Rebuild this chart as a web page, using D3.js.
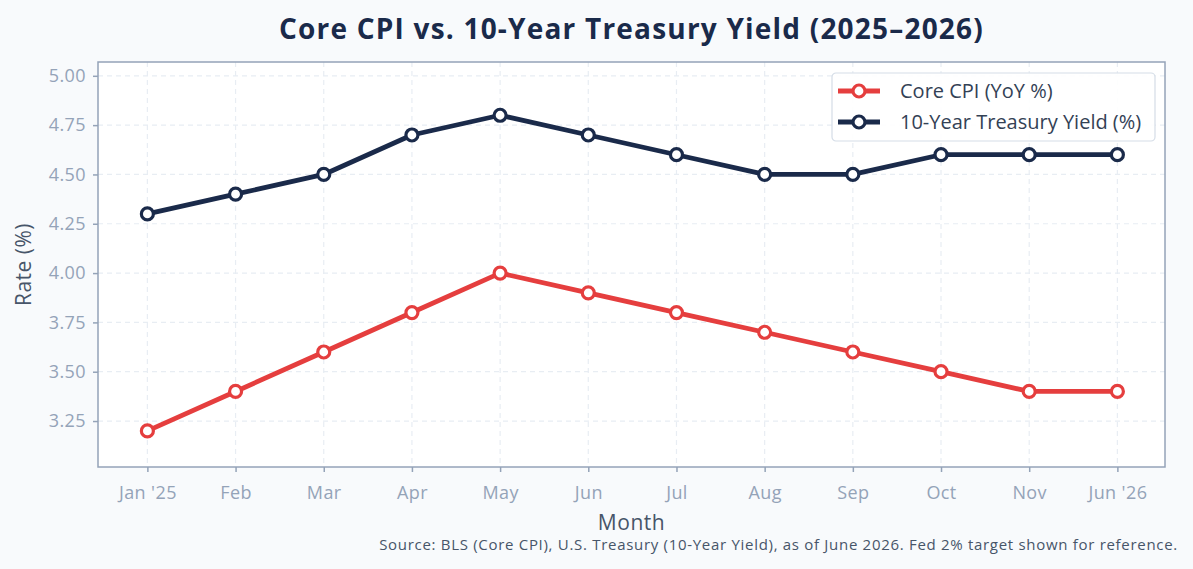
<!DOCTYPE html>
<html>
<head>
<meta charset="utf-8">
<title>Core CPI vs 10Y</title>
<style>
  body { margin: 0; background: #f8fafc; }
  svg { display: block; font-family: "Open Sans", "Noto Sans", sans-serif; }
</style>
</head>
<body>
<div id="chart"></div>
<script src="https://cdn.jsdelivr.net/npm/d3@7/dist/d3.min.js"></script>
<script>
var months = ["Jan '25", "Feb", "Mar", "Apr", "May", "Jun", "Jul", "Aug", "Sep", "Oct", "Nov", "Jun '26"];
var coreCpi = [3.2, 3.4, 3.6, 3.8, 4.0, 3.9, 3.8, 3.7, 3.6, 3.5, 3.4, 3.4];
var treasury = [4.3, 4.4, 4.5, 4.7, 4.8, 4.7, 4.6, 4.5, 4.5, 4.6, 4.6, 4.6];
var yTicks = [3.25, 3.5, 3.75, 4.0, 4.25, 4.5, 4.75, 5.0];

var W = 1193, H = 569;
var margin = {top: 62, right: 28, bottom: 102, left: 98};
var width = W - margin.left - margin.right,
    height = H - margin.top - margin.bottom;
var FONT = '"Open Sans", "Noto Sans", sans-serif';

var svg = d3.select("#chart").append("svg")
    .attr("width", W).attr("height", H);
svg.append("rect").attr("width", W).attr("height", H).attr("fill", "#f8fafc");

var g = svg.append("g").attr("transform", "translate(" + margin.left + "," + margin.top + ")");

var x = d3.scaleLinear().domain([-0.56, months.length - 1 + 0.54]).range([0, width]);
var y = d3.scaleLinear().domain([3.017, 5.07]).range([height, 0]);

g.append("rect").attr("width", width).attr("height", height).attr("fill", "#ffffff");

// grid
g.selectAll(".hgrid").data(yTicks).enter().append("line")
    .attr("x1", 0).attr("x2", width)
    .attr("y1", d => y(d)).attr("y2", d => y(d))
    .attr("stroke", "#e8edf3").attr("stroke-width", 1.2).attr("stroke-dasharray", "5,4");
g.selectAll(".vgrid").data(months).enter().append("line")
    .attr("x1", (d, i) => x(i)).attr("x2", (d, i) => x(i))
    .attr("y1", 0).attr("y2", height)
    .attr("stroke", "#e8edf3").attr("stroke-width", 1.2).attr("stroke-dasharray", "5,4");

// axes
var yAxis = g.append("g")
    .call(d3.axisLeft(y).tickValues(yTicks).tickFormat(d3.format(".2f")).tickSize(5).tickPadding(7));
var xAxis = g.append("g").attr("transform", "translate(0," + height + ")")
    .call(d3.axisBottom(x).tickValues(d3.range(months.length)).tickFormat(i => months[i]).tickSize(5).tickPadding(14));
[xAxis, yAxis].forEach(function(a) {
  a.attr("font-family", FONT);
  a.select(".domain").remove();
  a.selectAll(".tick line").attr("stroke", "#94a3b8").attr("stroke-width", 1.5);
  a.selectAll(".tick text").attr("fill", "#94a3b8").style("font-size", "18px").style("letter-spacing", "0.4px");
});

g.append("rect").attr("width", width).attr("height", height)
    .attr("fill", "none").attr("stroke", "#94a3b8").attr("stroke-width", 1.5);

// lines
var series = [
  {name: "Core CPI (YoY %)", values: coreCpi, color: "#e53e3e"},
  {name: "10-Year Treasury Yield (%)", values: treasury, color: "#1a2a4a"}
];
var line = d3.line().x((d, i) => x(i)).y(d => y(d));
series.forEach(function(s) {
  g.append("path").datum(s.values).attr("d", line)
      .attr("fill", "none").attr("stroke", s.color).attr("stroke-width", 4.8)
      .attr("stroke-linejoin", "round");
  g.selectAll(null).data(s.values).enter().append("circle")
      .attr("cx", (d, i) => x(i)).attr("cy", d => y(d)).attr("r", 6)
      .attr("fill", "#ffffff").attr("stroke", s.color).attr("stroke-width", 3.2);
});

// legend
var lg = svg.append("g").attr("transform", "translate(832,73)");
lg.append("rect").attr("width", 323).attr("height", 68).attr("rx", 4)
    .attr("fill", "#ffffff").attr("fill-opacity", 0.9).attr("stroke", "#d5dde7").attr("stroke-width", 1.2);
series.forEach(function(s, i) {
  var yy = 18 + i * 31;
  lg.append("line").attr("x1", 6).attr("x2", 48).attr("y1", yy).attr("y2", yy)
      .attr("stroke", s.color).attr("stroke-width", 4.8);
  lg.append("circle").attr("cx", 27).attr("cy", yy).attr("r", 6)
      .attr("fill", "#ffffff").attr("stroke", s.color).attr("stroke-width", 3.2);
  lg.append("text").attr("x", 68).attr("y", yy).attr("dy", "0.35em")
      .attr("fill", "#334155").style("font-size", "20px").text(s.name);
});

// titles
svg.append("text").attr("x", margin.left + width / 2).attr("y", 39).attr("text-anchor", "middle")
    .attr("fill", "#1a2a4a").style("font-size", "28px").style("font-weight", "bold").style("letter-spacing", "1.2px")
    .text("Core CPI vs. 10-Year Treasury Yield (2025–2026)");
svg.append("text").attr("x", margin.left + width / 2).attr("y", 530).attr("text-anchor", "middle")
    .attr("fill", "#475569").style("font-size", "21px").style("letter-spacing", "0.5px").text("Month");
svg.append("text").attr("transform", "translate(31," + (margin.top + height / 2) + ") rotate(-90)")
    .attr("text-anchor", "middle").attr("fill", "#475569").style("font-size", "21px").style("letter-spacing", "0.5px").text("Rate (%)");
svg.append("text").attr("x", 1178).attr("y", 550).attr("text-anchor", "end")
    .attr("fill", "#475569").style("font-size", "15px").style("letter-spacing", "0.7px")
    .text("Source: BLS (Core CPI), U.S. Treasury (10-Year Yield), as of June 2026. Fed 2% target shown for reference.");
</script>
</body>
</html>
